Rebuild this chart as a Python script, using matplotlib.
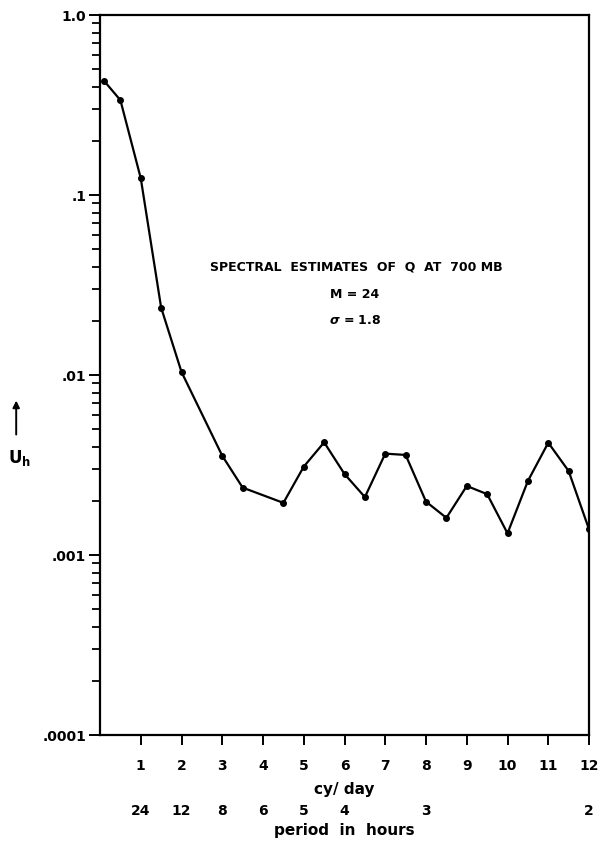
import numpy as np
import matplotlib
matplotlib.use('Agg')
import matplotlib.pyplot as plt
from matplotlib.ticker import LogLocator, NullFormatter, FixedLocator

## data
freq = [0.1, 0.5, 1.0, 1.5, 2.0, 3.0, 3.5, 4.5, 5.0, 5.5, 6.0, 6.5,
        7.0, 7.5, 8.0, 8.5, 9.0, 9.5, 10.0, 10.5, 11.0, 11.5, 12.0]
uh = [0.431, 0.337, 0.124, 0.0237, 0.0104, 0.00356, 0.00237, 0.00195,
      0.00310, 0.00423, 0.00282, 0.00210, 0.00366, 0.00360, 0.00198,
      0.00161, 0.00242, 0.00218, 0.00132, 0.00258, 0.00421, 0.00293, 0.00139]

xticks = list(range(1, 13))
yticks = [1e-4, 1e-3, 1e-2, 1e-1, 1.0]
ylabels = ['.0001', '.001', '.01', '.1', '1.0']
period_pos = [1, 2, 3, 4, 5, 6, 8, 12]
period_lab = ['24', '12', '8', '6', '5', '4', '3', '2']

plt.rcParams['font.weight'] = 'bold'

fig = plt.figure(figsize=(6.0, 8.41), dpi=100)
ax = fig.add_axes([0.1667, 0.126, 0.815, 0.856])

ax.plot(freq, uh, color='black', lw=1.6, marker='o', ms=4)
ax.set_yscale('log')
ax.set_xlim(0, 12)
ax.set_ylim(1e-4, 1.0)

ax.set_yticks(yticks)
ax.set_yticklabels(ylabels)
ax.yaxis.set_minor_locator(LogLocator(base=10, subs=np.arange(2, 10)))
ax.yaxis.set_minor_formatter(NullFormatter())
ax.xaxis.set_major_locator(FixedLocator(xticks))
ax.set_xticklabels([str(t) for t in xticks])

ax.tick_params(axis='x', which='major', direction='out', length=7, width=1.4,
               labelsize=10, pad=10)
ax.tick_params(axis='y', which='major', direction='out', length=8, width=1.4,
               labelsize=10, pad=2)
ax.tick_params(axis='y', which='minor', direction='out', length=6, width=1.3)
for s in ax.spines.values():
    s.set_linewidth(1.6)

# period axis labels under cy/day
for p, l in zip(period_pos, period_lab):
    ax.text(p, -0.106, l, transform=ax.get_xaxis_transform(), ha='center',
            va='center', fontsize=10)
ax.text(6, -0.076, 'cy/ day', transform=ax.get_xaxis_transform(), ha='center',
        va='center', fontsize=11)
ax.text(6, -0.132, 'period  in  hours', transform=ax.get_xaxis_transform(),
        ha='center', va='center', fontsize=11)

# annotation
ax.text(6.28, 0.0398, 'SPECTRAL  ESTIMATES  OF  Q  AT  700 MB', ha='center',
        va='center', fontsize=9)
ax.text(6.25, 0.0282, 'M = 24', ha='center', va='center', fontsize=9)
ax.text(6.25, 0.0202, r'$\sigma$ = 1.8', ha='center', va='center', fontsize=9)

# U_h label with arrow
fig.text(0.033, 0.455, r'U$_\mathbf{h}$', ha='center', va='center', fontsize=12)
ax.annotate('', xy=(0.027, 0.527), xytext=(0.027, 0.48), xycoords='figure fraction',
            arrowprops=dict(arrowstyle='-|>', color='black', lw=1.4, mutation_scale=10))

plt.savefig('out.png', dpi=100)
